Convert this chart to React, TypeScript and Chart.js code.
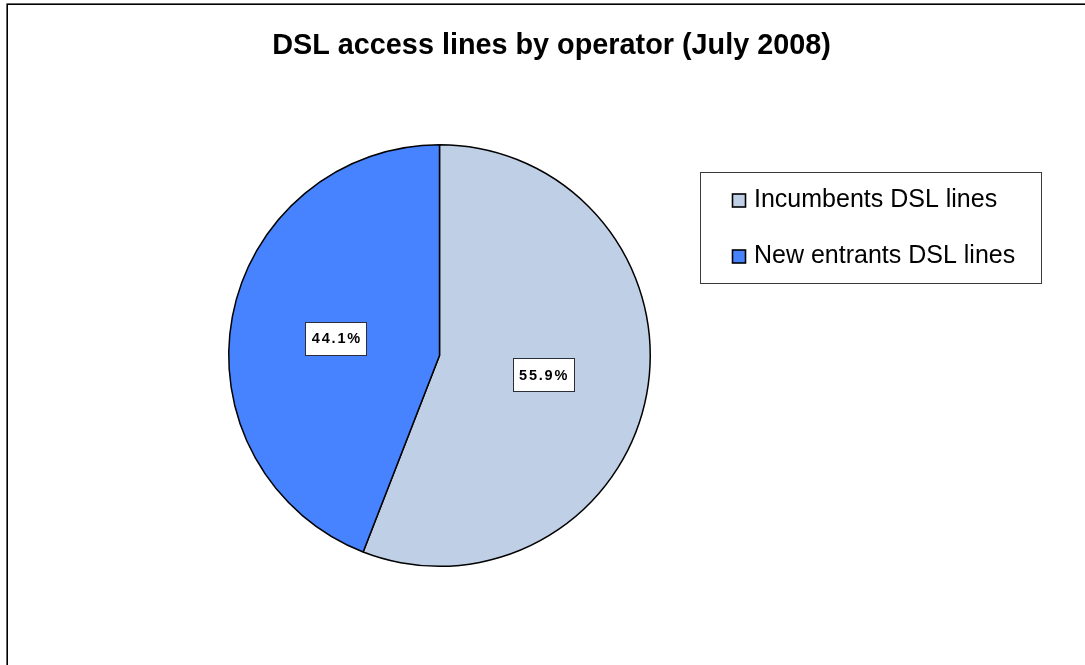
import React, { useEffect, useRef } from "react";
import { Chart, registerables } from "chart.js";

Chart.register(...registerables);

const TITLE = "DSL access lines by operator (July 2008)";
const CATEGORIES = ["Incumbents DSL lines", "New entrants DSL lines"];
const SHARES = [55.9, 44.1];
const LABEL_TEXT = ["55.9%", "44.1%"];
const COLORS = ["#BFCFE6", "#4783FF"];

const FONT = "'Liberation Sans', Arial, Helvetica, sans-serif";

const framePlugin = {
  id: "frame",
  beforeDraw(chart: any) {
    const ctx = chart.ctx;
    ctx.save();
    ctx.fillStyle = "#ffffff";
    ctx.fillRect(0, 0, chart.width, chart.height);
    ctx.strokeStyle = "#000000";
    ctx.lineWidth = 1.6;
    ctx.strokeRect(7.2, 4.2, chart.width + 50, chart.height + 50);
    ctx.fillStyle = "#000000";
    ctx.font = `bold 28.8px ${FONT}`;
    ctx.textAlign = "center";
    ctx.textBaseline = "alphabetic";
    ctx.fillText(TITLE, 551.5, 54);
    ctx.restore();
  },
};

const labelPlugin = {
  id: "sliceLabels",
  afterDatasetsDraw(chart: any) {
    const ctx = chart.ctx;
    const meta = chart.getDatasetMeta(0);
    ctx.save();
    ctx.font = `bold 14.5px ${FONT}`;
    (ctx as any).letterSpacing = "1.8px";
    ctx.textAlign = "center";
    ctx.textBaseline = "middle";
    meta.data.forEach((arc: any, i: number) => {
      const p = arc.getProps(["x", "y", "startAngle", "endAngle", "outerRadius"], true);
      const mid = (p.startAngle + p.endAngle) / 2;
      const r = p.outerRadius * 0.5;
      const cx = p.x + Math.cos(mid) * r;
      const cy = p.y + Math.sin(mid) * r + (i === 1 ? 2 : 0);
      const w = 61;
      const h = 33;
      const bx = Math.round(cx - w / 2) + 0.5;
      const by = Math.round(cy - h / 2) + 0.5;
      ctx.fillStyle = "#ffffff";
      ctx.fillRect(bx, by, w, h);
      ctx.strokeStyle = "#2b2f3a";
      ctx.lineWidth = 1;
      ctx.strokeRect(bx, by, w, h);
      ctx.fillStyle = "#000000";
      ctx.fillText(LABEL_TEXT[i], cx + 1, cy + 1);
    });
    ctx.restore();
  },
};

const legendPlugin = {
  id: "boxLegend",
  afterDraw(chart: any) {
    const ctx = chart.ctx;
    ctx.save();
    ctx.strokeStyle = "#3a3a3a";
    ctx.lineWidth = 1;
    ctx.strokeRect(700.5, 172.5, 341, 111);
    ctx.font = `25px ${FONT}`;
    ctx.textAlign = "left";
    ctx.textBaseline = "middle";
    const rows = [199, 255];
    CATEGORIES.forEach((c, i) => {
      const y = rows[i];
      ctx.fillStyle = COLORS[i];
      ctx.fillRect(732.5, y - 5, 13, 13);
      ctx.strokeStyle = "#000000";
      ctx.lineWidth = 1.6;
      ctx.strokeRect(732.5, y - 5, 13, 13);
      ctx.fillStyle = "#000000";
      ctx.fillText(c, 754, y + 1);
    });
    ctx.restore();
  },
};

export default function App() {
  const ref = useRef<HTMLCanvasElement | null>(null);
  useEffect(() => {
    if (!ref.current) return;
    const chart = new Chart(ref.current, {
      type: "pie",
      data: {
        labels: CATEGORIES,
        datasets: [
          {
            data: SHARES,
            backgroundColor: COLORS,
            borderColor: "#000000",
            borderWidth: 1.5,
          },
        ],
      },
      options: {
        responsive: false,
        animation: false,
        layout: { padding: { top: 144, bottom: 98, left: 228, right: 434 } },
        plugins: {
          legend: { display: false },
          title: { display: false },
          tooltip: { enabled: false },
        },
      },
      plugins: [framePlugin, labelPlugin, legendPlugin],
    });
    return () => chart.destroy();
  }, []);
  return (
    <div style={{ position: "fixed", left: 0, top: 0, width: 1085, height: 665 }}>
      <canvas ref={ref} width={1085} height={665} style={{ display: "block" }} />
    </div>
  );
}
